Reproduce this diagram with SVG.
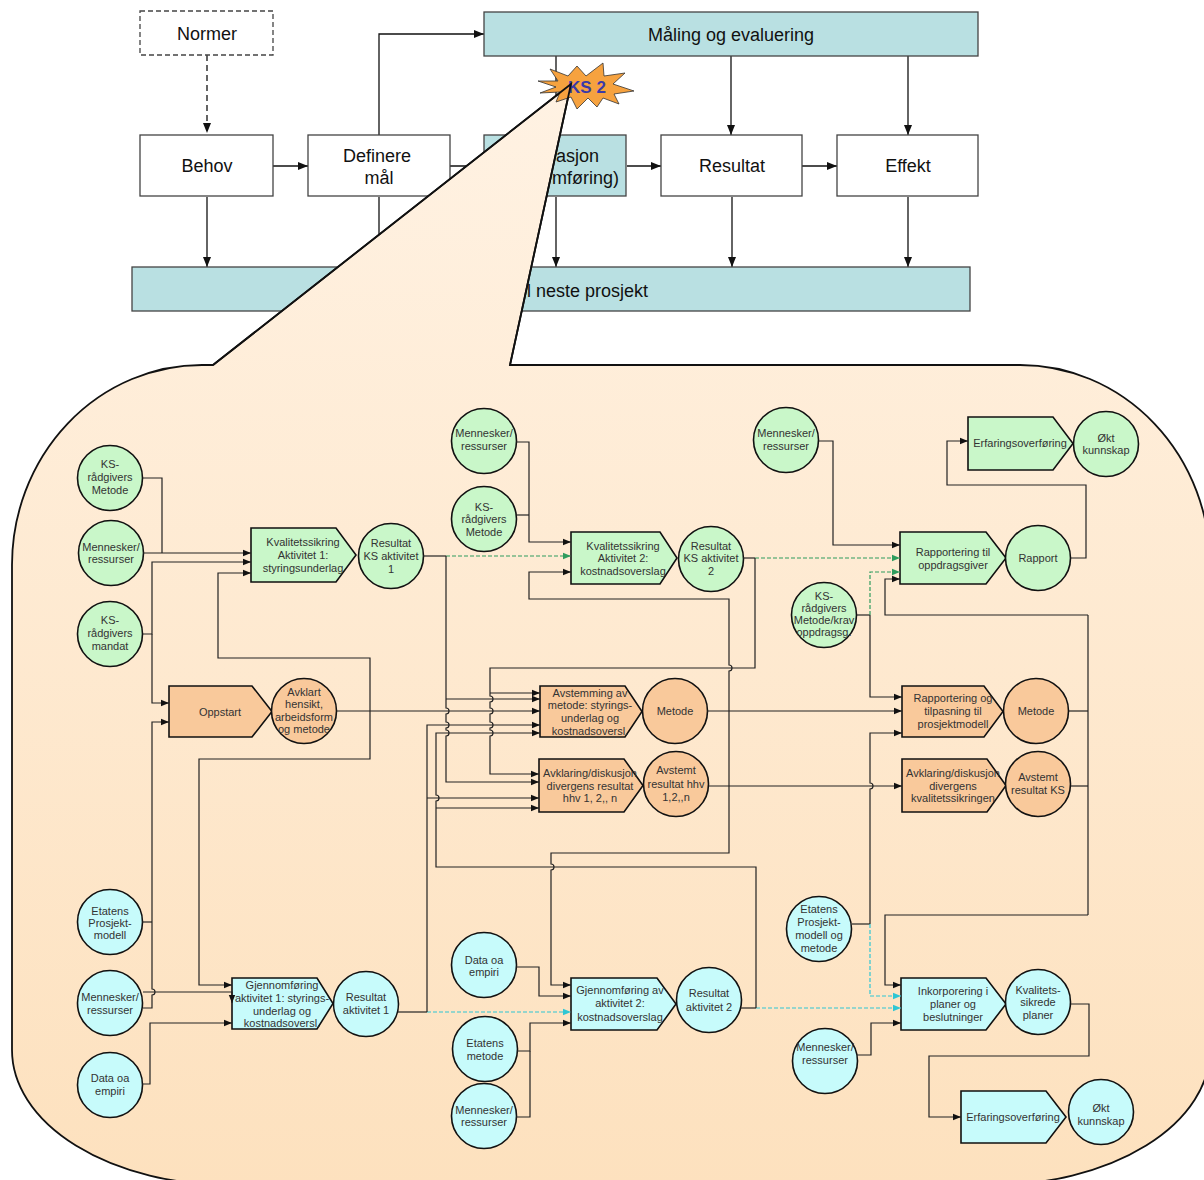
<svg xmlns="http://www.w3.org/2000/svg" width="1204" height="1180" viewBox="0 0 1204 1180">
<defs>
<linearGradient id="bg" x1="0" y1="0" x2="0" y2="1">
<stop offset="0" stop-color="#fff2e3"/>
<stop offset="1" stop-color="#fde1be"/>
</linearGradient>
<marker id="ah" viewBox="0 0 10 10" refX="10" refY="5" markerWidth="8" markerHeight="8" markerUnits="userSpaceOnUse" orient="auto-start-reverse"><path d="M0,1 L10,5 L0,9 Z" fill="#111"/></marker>
<marker id="ahT" viewBox="0 0 10 10" refX="10" refY="5" markerWidth="11" markerHeight="10" markerUnits="userSpaceOnUse" orient="auto"><path d="M0,1 L10,5 L0,9 Z" fill="#111"/></marker>
<marker id="ahG" viewBox="0 0 10 10" refX="10" refY="5" markerWidth="8" markerHeight="8" markerUnits="userSpaceOnUse" orient="auto"><path d="M0,1 L10,5 L0,9 Z" fill="#2e9c5e"/></marker>
<marker id="ahC" viewBox="0 0 10 10" refX="10" refY="5" markerWidth="8" markerHeight="8" markerUnits="userSpaceOnUse" orient="auto"><path d="M0,1 L10,5 L0,9 Z" fill="#2ec6d4"/></marker>
</defs>
<style>
.box{stroke:#444;stroke-width:1.3;fill:#fff}
.teal{fill:#b9e0e2}
.tt{font-family:"Liberation Sans",Arial,sans-serif;font-size:18px;fill:#111;text-anchor:middle}
.ttl{font-family:"Liberation Sans",Arial,sans-serif;font-size:18px;fill:#111}
.tc{fill:none;stroke:#111;stroke-width:1.3}
.g{fill:#c9f7c9;stroke:#111;stroke-width:1.6}
.o{fill:#f9c99b;stroke:#111;stroke-width:1.6}
.c{fill:#c7fbfb;stroke:#111;stroke-width:1.6}
.t{font-family:"Liberation Sans",Arial,sans-serif;font-size:11px;fill:#333;text-anchor:middle}
.k{fill:none;stroke:#222;stroke-width:1.2}
.gd{fill:none;stroke:#2e9c5e;stroke-width:1.2;stroke-dasharray:4 2}
.cd{fill:none;stroke:#2ec6d4;stroke-width:1.2;stroke-dasharray:4 2}
</style>
<rect width="1204" height="1180" fill="#fff"/>

<!-- top connectors -->
<g id="top-connectors" class="tc">
<path d="M207,55 V133" stroke-dasharray="6 4" marker-end="url(#ahT)"/>
<path d="M273,166 H308" marker-end="url(#ahT)"/>
<path d="M450,166 H484" marker-end="url(#ahT)"/>
<path d="M627,166 H661" marker-end="url(#ahT)"/>
<path d="M802,166 H837" marker-end="url(#ahT)"/>
<path d="M379,135 V34 H484" marker-end="url(#ahT)"/>
<path d="M731,56 V135" marker-end="url(#ahT)"/>
<path d="M908,56 V135" marker-end="url(#ahT)"/>
<path d="M556,56 V135" marker-end="url(#ahT)"/>
<path d="M207,197 V267" marker-end="url(#ahT)"/>
<path d="M379,197 V267" marker-end="url(#ahT)"/>
<path d="M556,197 V267" marker-end="url(#ahT)"/>
<path d="M732,197 V267" marker-end="url(#ahT)"/>
<path d="M908,197 V267" marker-end="url(#ahT)"/>
</g>

<!-- top nodes -->
<g id="normer"><rect x="140" y="11" width="133" height="44" class="box" stroke-dasharray="5 3"/><text x="207" y="40" class="tt">Normer</text></g>
<g id="maling"><rect x="484" y="12" width="494" height="44" class="box teal"/><text x="731" y="41" class="tt">Måling og evaluering</text></g>
<g id="behov"><rect x="140" y="135" width="133" height="61" class="box"/><text x="207" y="172" class="tt">Behov</text></g>
<g id="definere"><rect x="308" y="135" width="142" height="61" class="box"/><text x="377" y="162" class="tt">Definere</text><text x="379" y="184" class="tt">mål</text></g>
<g id="gjennomforing"><rect x="484" y="135" width="142" height="61" class="box teal"/><text x="556" y="162" class="ttl">asjon</text><text x="552" y="184" class="ttl">mføring)</text></g>
<g id="resultat"><rect x="661" y="135" width="141" height="61" class="box"/><text x="732" y="172" class="tt">Resultat</text></g>
<g id="effekt"><rect x="837" y="135" width="141" height="61" class="box"/><text x="908" y="172" class="tt">Effekt</text></g>
<g id="erfaring-neste"><rect x="132" y="267" width="838" height="44" class="box teal"/><text x="527" y="297" class="ttl">l neste prosjekt</text></g>

<!-- callout bubble -->
<path id="bubble" d="M213,365 L571,84 L510,365 L1020,365 A190,200 0 0 1 1210,565 L1210,1050 A218,135 0 0 1 992,1185 L230,1185 A218,135 0 0 1 12,1050 L12,565 A190,200 0 0 1 202,365 Z" fill="url(#bg)" stroke="#111" stroke-width="1.8"/>

<g id="ks2">
<path d="M538,81 L558,81 L550,69 L568,76 L577,66 L586,76 L603,63 L604,76 L625,73 L613,84 L634,91 L614,94 L619,104 L603,98 L597,107 L588,98 L577,109 L571,97 L556,102 L560,92 L540,93 L556,87 Z" fill="#f6a23f" stroke="#333" stroke-width="0.8"/>
<text x="587" y="93" font-family="Liberation Sans, Arial, sans-serif" font-size="17" font-weight="bold" fill="#3a3aa8" text-anchor="middle">KS 2</text>
</g>
<path d="M213,365 L571,84 L510,365" fill="none" stroke="#111" stroke-width="1.8"/>

<!-- bubble nodes -->
<g id="ks-metode-1"><circle cx="110" cy="478" r="32.5" class="g"/><text class="t" x="110" y="468">KS-</text><text class="t" x="110" y="481">rådgivers</text><text class="t" x="110" y="494">Metode</text></g>
<g id="menn-1"><circle cx="111" cy="553" r="32.5" class="g"/><text class="t" x="111" y="551">Mennesker/</text><text class="t" x="111" y="563">ressurser</text></g>
<g id="ks-mandat"><circle cx="110" cy="634" r="32.5" class="g"/><text class="t" x="110" y="624">KS-</text><text class="t" x="110" y="637">rådgivers</text><text class="t" x="110" y="650">mandat</text></g>
<g id="ks-akt1"><polygon points="251,528 336,528 356,555 336,582 251,582" class="g"/><text class="t" x="303" y="546">Kvalitetssikring</text><text class="t" x="303" y="559">Aktivitet 1:</text><text class="t" x="303" y="572">styringsunderlag</text></g>
<g id="res-ks1"><circle cx="391" cy="556" r="32.5" class="g"/><text class="t" x="391" y="547">Resultat</text><text class="t" x="391" y="560">KS aktivitet</text><text class="t" x="391" y="573">1</text></g>
<g id="oppstart"><polygon points="169,686 252,686 272,711.5 252,737 169,737" class="o"/><text class="t" x="220" y="716">Oppstart</text></g>
<g id="avklart"><circle cx="304" cy="711" r="32.5" class="o"/><text class="t" x="304" y="696">Avklart</text><text class="t" x="304" y="708">hensikt,</text><text class="t" x="304" y="721">arbeidsform</text><text class="t" x="304" y="733">og metode</text></g>
<g id="menn-2"><circle cx="484" cy="441" r="32.5" class="g"/><text class="t" x="484" y="437">Mennesker/</text><text class="t" x="484" y="450">ressurser</text></g>
<g id="ks-metode-2"><circle cx="484" cy="519" r="32.5" class="g"/><text class="t" x="484" y="511">KS-</text><text class="t" x="484" y="523">rådgivers</text><text class="t" x="484" y="536">Metode</text></g>
<g id="ks-akt2"><polygon points="571,532 660,532 677,558 660,584 571,584" class="g"/><text class="t" x="623" y="550">Kvalitetssikring</text><text class="t" x="623" y="562">Aktivitet 2:</text><text class="t" x="623" y="575">kostnadsoverslag</text></g>
<g id="res-ks2"><circle cx="711" cy="559" r="32.5" class="g"/><text class="t" x="711" y="550">Resultat</text><text class="t" x="711" y="562">KS aktivitet</text><text class="t" x="711" y="575">2</text></g>
<g id="avstemming"><polygon points="540,686 625,686 642,711.5 625,737 540,737" class="o"/><text class="t" x="590" y="697">Avstemming av</text><text class="t" x="590" y="709">metode: styrings-</text><text class="t" x="590" y="722">underlag og</text><text class="t" x="590" y="735">kostnadsoversl.</text></g>
<g id="metode-mid"><circle cx="675" cy="711" r="32.5" class="o"/><text class="t" x="675" y="715">Metode</text></g>
<g id="avklaring-mid"><polygon points="539,759 624,759 643,785.5 624,812 539,812" class="o"/><text class="t" x="590" y="777">Avklaring/diskusjon</text><text class="t" x="590" y="790">divergens resultat</text><text class="t" x="590" y="802">hhv 1, 2,, n</text></g>
<g id="avstemt-hhv"><circle cx="676" cy="784" r="32.5" class="o"/><text class="t" x="676" y="774">Avstemt</text><text class="t" x="676" y="788">resultat hhv</text><text class="t" x="676" y="801">1,2,,n</text></g>
<g id="menn-3"><circle cx="786" cy="440" r="32.5" class="g"/><text class="t" x="786" y="437">Mennesker/</text><text class="t" x="786" y="450">ressurser</text></g>
<g id="rapportering"><polygon points="900,532 986,532 1006,558 986,584 900,584" class="g"/><text class="t" x="953" y="556">Rapportering til</text><text class="t" x="953" y="569">oppdragsgiver</text></g>
<g id="rapport"><circle cx="1038" cy="558" r="32.5" class="g"/><text class="t" x="1038" y="562">Rapport</text></g>
<g id="erfaring-top"><polygon points="968,417 1053,417 1073,443.5 1053,470 968,470" class="g"/><text class="t" x="1020" y="447">Erfaringsoverføring</text></g>
<g id="okt-top"><circle cx="1106" cy="444" r="32.5" class="g"/><text class="t" x="1106" y="442">Økt</text><text class="t" x="1106" y="454">kunnskap</text></g>
<g id="ks-krav"><circle cx="824" cy="615" r="32.5" class="g"/><text class="t" x="824" y="600">KS-</text><text class="t" x="824" y="612">rådgivers</text><text class="t" x="824" y="624">Metode/krav</text><text class="t" x="824" y="636">oppdragsg.</text></g>
<g id="rapp-tilp"><polygon points="902,686 984,686 1003,711.5 984,737 902,737" class="o"/><text class="t" x="953" y="702">Rapportering og</text><text class="t" x="953" y="715">tilpasning til</text><text class="t" x="953" y="728">prosjektmodell</text></g>
<g id="metode-right"><circle cx="1036" cy="711" r="32.5" class="o"/><text class="t" x="1036" y="715">Metode</text></g>
<g id="avklaring-ks"><polygon points="902,759 987,759 1006,785.5 987,812 902,812" class="o"/><text class="t" x="953" y="777">Avklaring/diskusjon</text><text class="t" x="953" y="790">divergens</text><text class="t" x="953" y="802">kvalitetssikringen</text></g>
<g id="avstemt-ks"><circle cx="1038" cy="784" r="32.5" class="o"/><text class="t" x="1038" y="781">Avstemt</text><text class="t" x="1038" y="794">resultat KS</text></g>
<g id="etatens-pm"><circle cx="110" cy="922" r="32.5" class="c"/><text class="t" x="110" y="915">Etatens</text><text class="t" x="110" y="927">Prosjekt-</text><text class="t" x="110" y="939">modell</text></g>
<g id="menn-bl"><circle cx="110" cy="1003" r="32.5" class="c"/><text class="t" x="110" y="1001">Mennesker/</text><text class="t" x="110" y="1014">ressurser</text></g>
<g id="data-bl"><circle cx="110" cy="1085" r="32.5" class="c"/><text class="t" x="110" y="1082">Data oa</text><text class="t" x="110" y="1095">empiri</text></g>
<g id="gjen1"><polygon points="232,978 317,978 333,1003.5 317,1029 232,1029" class="c"/><text class="t" x="282" y="989">Gjennomføring</text><text class="t" x="282" y="1002">aktivitet 1: styrings-</text><text class="t" x="282" y="1015">underlag og</text><text class="t" x="282" y="1027">kostnadsoversl.</text></g>
<g id="res-akt1"><circle cx="366" cy="1004" r="32.5" class="c"/><text class="t" x="366" y="1001">Resultat</text><text class="t" x="366" y="1014">aktivitet 1</text></g>
<g id="data-mid"><circle cx="484" cy="965" r="32.5" class="c"/><text class="t" x="484" y="964">Data oa</text><text class="t" x="484" y="976">empiri</text></g>
<g id="etatens-metode"><circle cx="485" cy="1049" r="32.5" class="c"/><text class="t" x="485" y="1047">Etatens</text><text class="t" x="485" y="1060">metode</text></g>
<g id="menn-bm"><circle cx="484" cy="1116" r="32.5" class="c"/><text class="t" x="484" y="1114">Mennesker/</text><text class="t" x="484" y="1126">ressurser</text></g>
<g id="gjen2"><polygon points="571,978 657,978 676,1004 657,1030 571,1030" class="c"/><text class="t" x="620" y="994">Gjennomføring av</text><text class="t" x="620" y="1007">aktivitet 2:</text><text class="t" x="620" y="1021">kostnadsoverslag</text></g>
<g id="res-akt2"><circle cx="709" cy="1000" r="32.5" class="c"/><text class="t" x="709" y="997">Resultat</text><text class="t" x="709" y="1011">aktivitet 2</text></g>
<g id="etatens-pmm"><circle cx="819" cy="929" r="32.5" class="c"/><text class="t" x="819" y="913">Etatens</text><text class="t" x="819" y="926">Prosjekt-</text><text class="t" x="819" y="939">modell og</text><text class="t" x="819" y="952">metode</text></g>
<g id="inkorp"><polygon points="901,978 986,978 1006,1004 986,1030 901,1030" class="c"/><text class="t" x="953" y="995">Inkorporering i</text><text class="t" x="953" y="1008">planer og</text><text class="t" x="953" y="1021">beslutninger</text></g>
<g id="menn-br"><circle cx="825" cy="1061" r="32.5" class="c"/><text class="t" x="825" y="1051">Mennesker/</text><text class="t" x="825" y="1064">ressurser</text></g>
<g id="kval-planer"><circle cx="1038" cy="1002" r="32.5" class="c"/><text class="t" x="1038" y="994">Kvalitets-</text><text class="t" x="1038" y="1006">sikrede</text><text class="t" x="1038" y="1019">planer</text></g>
<g id="erfaring-bot"><polygon points="961,1091 1046,1091 1066,1117 1046,1143 961,1143" class="c"/><text class="t" x="1013" y="1121">Erfaringsoverføring</text></g>
<g id="okt-bot"><circle cx="1101" cy="1112" r="32.5" class="c"/><text class="t" x="1101" y="1112">Økt</text><text class="t" x="1101" y="1125">kunnskap</text></g>

<!-- bubble connectors -->
<g id="connectors">
<path class="k" d="M143,478 H162 V553"/>
<path class="k" d="M143,553 H251" marker-end="url(#ah)"/>
<path class="k" d="M143,634 H152 V562 H251" marker-end="url(#ah)"/>
<path class="k" d="M152,634 V703 H169" marker-end="url(#ah)"/>
<path class="k" d="M251,573 H218 V658 H370 V759 H199 V985 H232" marker-start="url(#ah)" marker-end="url(#ah)"/>
<path class="k" d="M142,922 H152"/>
<path class="k" d="M143,1008 H152 V995 a3,3 0 0 0 0,-6 V722 H169" marker-end="url(#ah)"/>
<path class="k" d="M143,992 H232 V1003" marker-end="url(#ah)"/>
<path class="k" d="M142,1084 H150 V1023 H232" marker-end="url(#ah)"/>
<path class="k" d="M337,711 H540" marker-end="url(#ah)"/>
<path class="k" d="M423,556 H446"/>
<path class="gd" d="M446,556 H571" marker-end="url(#ahG)"/>
<path class="k" d="M446,556 V708 a3,3 0 0 1 0,6 V722 a3,3 0 0 1 0,6 V730 a3,3 0 0 1 0,6 V782 H539" marker-end="url(#ah)"/>
<path class="k" d="M446,699 H540" marker-end="url(#ah)"/>
<path class="k" d="M743,558 H755"/>
<path class="gd" d="M755,558 H900" marker-end="url(#ahG)"/>
<path class="k" d="M755,558 V668 H490 V696 a3,3 0 0 1 0,6 V708 a3,3 0 0 1 0,6 V722 a3,3 0 0 1 0,6 V730 a3,3 0 0 1 0,6 V774 H539" marker-end="url(#ah)"/>
<path class="k" d="M490,693 H540" marker-end="url(#ah)"/>
<path class="k" d="M516,442 H529 V542 H571" marker-end="url(#ah)"/>
<path class="k" d="M516,515 H529"/>
<path class="k" d="M571,572 H529 V599 H729 V665 a3,3 0 0 1 0,6 V853 H551 V864 a3,3 0 0 1 0,6 V985 H571" marker-start="url(#ah)" marker-end="url(#ah)"/>
<path class="k" d="M398,1012 H427"/>
<path class="cd" d="M427,1012 H571" marker-end="url(#ahC)"/>
<path class="k" d="M427,1012 V725 H540" marker-end="url(#ah)"/>
<path class="k" d="M427,798 H539" marker-end="url(#ah)"/>
<path class="k" d="M741,1008 H756"/>
<path class="cd" d="M756,1008 H901" marker-end="url(#ahC)"/>
<path class="k" d="M756,1008 V867 H436 V801 a3,3 0 0 0 0,-6 V733 H540" marker-end="url(#ah)"/>
<path class="k" d="M436,808 H539" marker-end="url(#ah)"/>
<path class="k" d="M516,967 H539 V996 H571" marker-end="url(#ah)"/>
<path class="k" d="M517,1051 H530 V1023 H571" marker-end="url(#ah)"/>
<path class="k" d="M516,1117 H530 V1051"/>
<path class="k" d="M819,441 H833 V545 H900" marker-end="url(#ah)"/>
<path class="k" d="M857,615 H870"/>
<path class="gd" d="M870,615 V572 H900" marker-end="url(#ahG)"/>
<path class="k" d="M870,615 V697 H902" marker-end="url(#ah)"/>
<path class="k" d="M1071,558 H1086 V485 H947 V441 H968" marker-end="url(#ah)"/>
<path class="k" d="M707,711 H902" marker-end="url(#ah)"/>
<path class="k" d="M709,786 H902" marker-end="url(#ah)"/>
<path class="k" d="M1069,711 H1088"/>
<path class="k" d="M1071,786 H1088"/>
<path class="k" d="M1088,615 V915"/>
<path class="k" d="M1088,615 H885 V579 H900" marker-end="url(#ah)"/>
<path class="k" d="M1088,915 H885 V985 H901" marker-end="url(#ah)"/>
<path class="k" d="M852,924 H870"/>
<path class="k" d="M870,924 V789 a3,3 0 0 0 0,-6 V733 H902" marker-end="url(#ah)"/>
<path class="cd" d="M870,924 V996 H901" marker-end="url(#ahC)"/>
<path class="k" d="M857,1055 H871 V1023 H901" marker-end="url(#ah)"/>
<path class="k" d="M1071,1004 H1089 V1056 H929 V1117 H961" marker-end="url(#ah)"/>
</g>
</svg>
